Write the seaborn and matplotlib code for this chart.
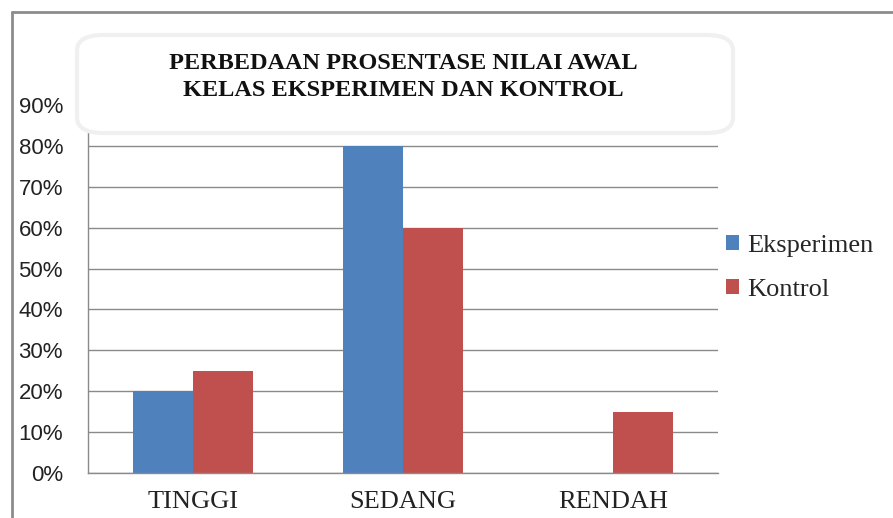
import pandas as pd
import matplotlib
matplotlib.use("Agg")
import matplotlib.pyplot as plt
from matplotlib.patches import FancyBboxPatch
from matplotlib.lines import Line2D
from matplotlib.ticker import PercentFormatter
import seaborn as sns

# data
categories = ["TINGGI", "SEDANG", "RENDAH"]
eksperimen = [20, 80, 0]
kontrol = [25, 60, 15]
series_names = ["Eksperimen", "Kontrol"]
title = "PERBEDAAN PROSENTASE NILAI AWAL\nKELAS EKSPERIMEN DAN KONTROL"

df = pd.DataFrame({
    "Kategori": categories * 2,
    "Nilai": eksperimen + kontrol,
    "Kelas": [series_names[0]] * 3 + [series_names[1]] * 3,
})

sns.set_style("white")
plt.rcParams["font.family"] = ["Liberation Serif", "DejaVu Serif"]

fig = plt.figure(figsize=(8.93, 5.18), dpi=100)
ax = fig.add_axes([88 / 893, 1 - 473 / 518, 630 / 893, (473 - 105) / 518])

sns.barplot(data=df, x="Kategori", y="Nilai", hue="Kelas",
            palette=["#4F81BD", "#C0504D"], width=0.567, gap=0,
            saturation=1, linewidth=0, ax=ax, legend=True)

ax.set_xlim(-0.5, 2.5)
ax.set_ylim(0, 90)
ax.set_yticks(range(0, 91, 10))
ax.yaxis.set_major_formatter(PercentFormatter(decimals=0))
ax.set_xlabel("")
ax.set_ylabel("")
ax.grid(axis="y", color="#8a8a8a", lw=1)
ax.set_axisbelow(True)

for s in ["top", "right"]:
    ax.spines[s].set_visible(False)
for s in ["left", "bottom"]:
    ax.spines[s].set_color("#8a8a8a")
    ax.spines[s].set_linewidth(1)

ax.tick_params(axis="y", length=7, width=1, color="#8a8a8a", pad=11,
               labelsize=16, labelcolor="#222222")
for lab in ax.get_yticklabels():
    lab.set_fontfamily("Liberation Sans")
ax.set_xticks([-0.5, 0.5, 1.5, 2.5], minor=True)
ax.tick_params(axis="x", which="minor", length=6, width=1, color="#8a8a8a")
ax.tick_params(axis="x", which="major", length=0, pad=13, labelsize=19,
               labelcolor="#222222")

handles, labels = ax.get_legend_handles_labels()
ax.legend_.remove()
fig.legend(handles, labels, loc="center left",
           bbox_to_anchor=(713 / 893, 1 - 268 / 518), frameon=False,
           fontsize=19, handlelength=0.5, handleheight=0.5,
           handletextpad=0.3, labelspacing=0.85, borderpad=0)

# outer chart border (only left/top visible)
fig.add_artist(Line2D([12 / 893, 12 / 893], [0, 1 - 12 / 518],
                      transform=fig.transFigure, color="#8c8c8c", lw=2))
fig.add_artist(Line2D([12 / 893, 1], [1 - 12 / 518, 1 - 12 / 518],
                      transform=fig.transFigure, color="#8c8c8c", lw=2))

# title box overlapping the plot area
box = FancyBboxPatch((77 / 893, 1 - 133 / 518), 656 / 893, 98 / 518,
                     boxstyle="round,pad=0,rounding_size=0.03",
                     transform=fig.transFigure, facecolor="white",
                     edgecolor="#f0f0f0", lw=3, zorder=5)
fig.add_artist(box)
fig.text(403 / 893, 1 - 77 / 518, title, ha="center", va="center",
         fontsize=17.5, fontweight="bold", linespacing=1.4, zorder=6,
         color="#111111")

fig.savefig("out.png", dpi=100)
